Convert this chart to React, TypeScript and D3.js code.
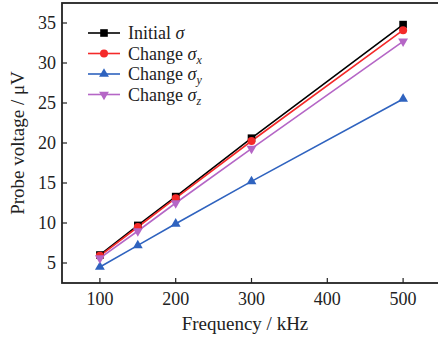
import * as d3 from "d3";

const frequencies = [100, 150, 200, 300, 500];
const initialSigma = [6.0, 9.7, 13.3, 20.6, 34.8];
const changeSigmaX = [5.9, 9.5, 13.1, 20.25, 34.1];
const changeSigmaY = [4.5, 7.2, 9.9, 15.2, 25.5];
const changeSigmaZ = [5.6, 9.0, 12.5, 19.3, 32.7];
const xTicks = [100, 200, 300, 400, 500];
const yTicks = [5, 10, 15, 20, 25, 30, 35];

const series = [
  { sub: "", label: "Initial ", values: initialSigma, color: "#000000", marker: "square" },
  { sub: "x", label: "Change ", values: changeSigmaX, color: "#f42a2a", marker: "circle" },
  { sub: "y", label: "Change ", values: changeSigmaY, color: "#2f63bf", marker: "up" },
  { sub: "z", label: "Change ", values: changeSigmaZ, color: "#b566c6", marker: "down" },
];

const width = 438;
const height = 338;
const margin = { left: 62, top: 3, right: -3, bottom: 55 };
const axisColor = "#222";
const serif = (size: number) => ({ fontFamily: '"Liberation Serif"', fontSize: `${size}px` });

const x = d3.scaleLinear().domain([50, 550]).range([margin.left, width - margin.right]);
const y = d3.scaleLinear().domain([2.5, 37.5]).range([height - margin.bottom, margin.top]);

const line = d3.line<number>()
  .x((d, i) => x(frequencies[i]))
  .y(d => y(d));

const triangle = d3.symbol().type(d3.symbolTriangle).size(42)();

function Marker({ type, color, cx, cy }) {
  if (type === "square") {
    return <rect x={cx - 3.8} y={cy - 3.8} width={7.6} height={7.6} fill={color} />;
  }
  if (type === "circle") {
    return <circle cx={cx} cy={cy} r={4} fill={color} />;
  }
  return (
    <path d={triangle} fill={color}
      transform={`translate(${cx},${cy}) rotate(${type === "down" ? 180 : 0})`} />
  );
}

export default function App() {
  const x0 = x(50), x1 = x(550), yTop = y(37.5), yBot = y(2.5);

  return (
    <svg width={width} height={height} style={{ position: "absolute", left: 0, top: 0 }}>
      {series.map(s => (
        <path key={s.color} d={line(s.values)} fill="none" stroke={s.color} strokeWidth={1.6} />
      ))}
      {series.map(s => s.values.map((v, i) => (
        <Marker key={s.color + i} type={s.marker} color={s.color} cx={x(frequencies[i])} cy={y(v)} />
      )))}

      {/* frame */}
      <rect x={x0} y={yTop} width={x1 - x0} height={yBot - yTop} fill="none" stroke={axisColor} strokeWidth={1.8} />

      {xTicks.map(t => (
        <g key={t}>
          <line x1={x(t)} x2={x(t)} y1={yBot} y2={yBot - 5} stroke={axisColor} strokeWidth={1.2} />
          <text x={x(t)} y={yBot + 22} textAnchor="middle" style={serif(18)} fill="#222">{t}</text>
        </g>
      ))}
      {yTicks.map(t => (
        <g key={t}>
          <line x1={x0} x2={x0 + 5} y1={y(t)} y2={y(t)} stroke={axisColor} strokeWidth={1.2} />
          <text x={x0 - 6} y={y(t) + 6} textAnchor="end" style={serif(18)} fill="#222">{t}</text>
        </g>
      ))}

      <text x={245} y={330} textAnchor="middle" style={serif(19)} fill="#222">Frequency / kHz</text>
      <text transform="translate(24,143) rotate(-90)" textAnchor="middle" style={serif(19)} fill="#222">
        Probe voltage / μV
      </text>

      {/* legend */}
      {series.map((s, i) => {
        const ly = 33 + i * 20.5;
        return (
          <g key={"lg" + i}>
            <line x1={88} x2={120} y1={ly} y2={ly} stroke={s.color} strokeWidth={1.6} />
            <Marker type={s.marker} color={s.color} cx={104} cy={ly} />
            <text x={128} y={ly + 6} style={serif(18)} fill="#222">
              <tspan>{s.label}</tspan>
              <tspan fontStyle="italic">σ</tspan>
              {s.sub && <tspan fontStyle="italic" style={{ fontSize: "12px" }} dy={4}>{s.sub}</tspan>}
            </text>
          </g>
        );
      })}
    </svg>
  );
}
